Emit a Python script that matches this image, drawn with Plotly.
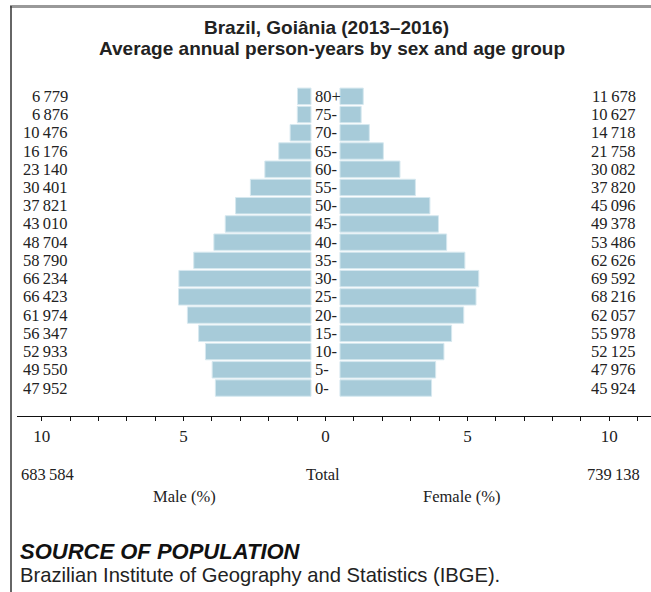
import plotly.graph_objects as go

# ---- data (bottom to top) ----
age_groups = ["0-", "5-", "10-", "15-", "20-", "25-", "30-", "35-", "40-",
              "45-", "50-", "55-", "60-", "65-", "70-", "75-", "80+"]
male = [47952, 49550, 52933, 56347, 61974, 66423, 66234, 58790, 48704,
        43010, 37821, 30401, 23140, 16176, 10476, 6876, 6779]
female = [45924, 47976, 52125, 55978, 62057, 68216, 69592, 62626, 53486,
          49378, 45096, 37820, 30082, 21758, 14718, 10627, 11678]
male_total = 683584
female_total = 739138
tick_vals = [-10, -5, 0, 5, 10]
tick_text = ["10", "5", "0", "5", "10"]

W, H = 651, 592
GAP = 0.51
BAR = "#a7cbd9"
SERIF = "Liberation Serif"
SANS = "Liberation Sans"
FS = 16.5

grand = male_total + female_total
male_pct = [-v / grand * 100 for v in male]
female_pct = [v / grand * 100 for v in female]


def fmt(v):
    return f"{v:,}".replace(",", "\u2009")


def px(x):
    return x / W


def py(y):
    return 1 - y / H


fig = go.Figure()
fig.add_trace(go.Bar(y=age_groups, x=male_pct, base=-GAP, orientation="h",
                     marker=dict(color=BAR, line=dict(color="#d6e8ef", width=1)),
                     name="Male", hoverinfo="skip"))
fig.add_trace(go.Bar(y=age_groups, x=female_pct, base=GAP, orientation="h",
                     marker=dict(color=BAR, line=dict(color="#d6e8ef", width=1)),
                     name="Female", hoverinfo="skip"))

sf = dict(family=SERIF, size=FS, color="#222")
ann = []
for a, m, f in zip(age_groups, male, female):
    ann.append(dict(x=-9.0, y=a, xref="x", yref="y", text=fmt(m), showarrow=False,
                    xanchor="right", yanchor="middle", font=sf))
    ann.append(dict(x=11.0, y=a, xref="x", yref="y", text=fmt(f), showarrow=False,
                    xanchor="right", yanchor="middle", font=sf))
    ann.append(dict(x=-0.43, y=a, xref="x", yref="y", text=a, showarrow=False,
                    xanchor="left", yanchor="middle", font=sf))

ann += [
    dict(x=px(326), y=py(27), xref="paper", yref="paper", text="<b>Brazil, Goiânia (2013–2016)</b>",
         showarrow=False, xanchor="center", yanchor="middle", font=dict(family=SANS, size=19, color="#222")),
    dict(x=px(332), y=py(48), xref="paper", yref="paper",
         text="<b>Average annual person-years by sex and age group</b>",
         showarrow=False, xanchor="center", yanchor="middle", font=dict(family=SANS, size=19, color="#222")),
    dict(x=px(19), y=py(474), xref="paper", yref="paper", text=fmt(male_total), showarrow=False,
         xanchor="left", yanchor="middle", font=sf),
    dict(x=px(642), y=py(474), xref="paper", yref="paper", text=fmt(female_total), showarrow=False,
         xanchor="right", yanchor="middle", font=sf),
    dict(x=px(323), y=py(474), xref="paper", yref="paper", text="Total", showarrow=False,
         xanchor="center", yanchor="middle", font=sf),
    dict(x=px(184), y=py(496), xref="paper", yref="paper", text="Male (%)", showarrow=False,
         xanchor="center", yanchor="middle", font=sf),
    dict(x=px(461), y=py(496), xref="paper", yref="paper", text="Female (%)", showarrow=False,
         xanchor="center", yanchor="middle", font=sf),
    dict(x=px(18), y=py(551), xref="paper", yref="paper", text="<b><i>SOURCE OF POPULATION</i></b>",
         showarrow=False, xanchor="left", yanchor="middle", font=dict(family=SANS, size=22, color="#111")),
    dict(x=px(18), y=py(575), xref="paper", yref="paper",
         text="Brazilian Institute of Geography and Statistics (IBGE).",
         showarrow=False, xanchor="left", yanchor="middle", font=dict(family=SANS, size=20.2, color="#222")),
]

shapes = [
    dict(type="rect", xref="paper", yref="paper", x0=px(10), x1=px(660), y0=py(8), y1=py(5),
         fillcolor="#999999", line=dict(width=0), layer="above"),
    dict(type="line", xref="paper", yref="paper", x0=px(11), x1=px(11), y0=py(6), y1=0,
         line=dict(color="#333333", width=1.5)),
]

fig.update_layout(
    width=W, height=H, margin=dict(l=0, r=0, t=0, b=0),
    paper_bgcolor="white", plot_bgcolor="white",
    showlegend=False, barmode="overlay", bargap=0.1,
    annotations=ann, shapes=shapes,
    xaxis=dict(domain=[px(17), px(651)], range=[-10.87, 11.47], tickvals=tick_vals, ticktext=tick_text,
               showgrid=False, zeroline=False, showline=True, linecolor="#111", linewidth=1.3,
               ticks="outside", ticklen=4, tickwidth=1, tickcolor="#111",
               minor=dict(dtick=1, tick0=0, ticks="outside", ticklen=4, tickwidth=1, tickcolor="#111", showgrid=False),
               tickfont=dict(family=SERIF, size=17, color="#222"), fixedrange=True),
    yaxis=dict(domain=[py(416), py(87)], type="category", categoryarray=age_groups,
               range=[-1.534, 16.51], showticklabels=False, showgrid=False, zeroline=False,
               showline=False, ticks="", fixedrange=True),
)

fig.write_html("out.html", config={"displayModeBar": False},
               post_script="document.body.style.margin='0';document.body.style.overflow='hidden';")
